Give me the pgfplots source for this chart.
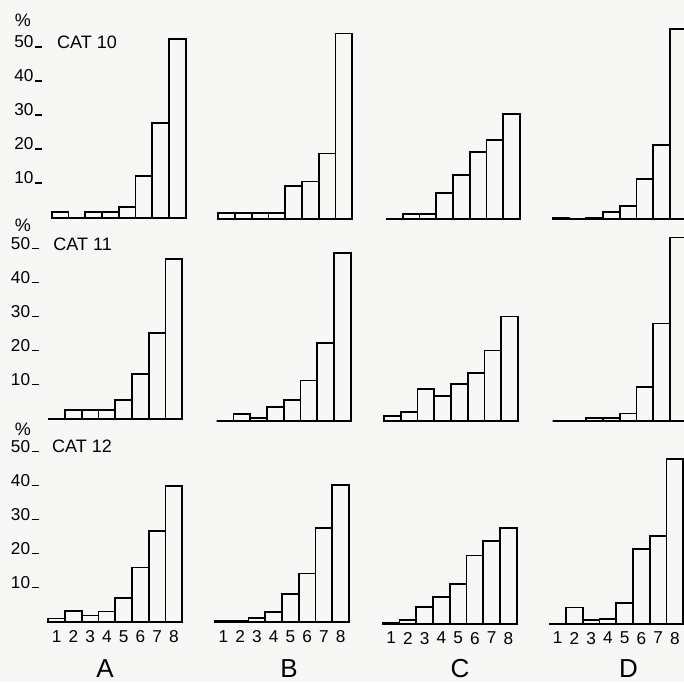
\documentclass[border=0pt]{standalone}
\usepackage{pgfplots}
\pgfplotsset{compat=1.18}
\usepackage{fontspec}
\setmainfont{Liberation Sans}
\definecolor{bgc}{RGB}{247,247,245}
\newcommand{\tk}[1]{#1\hspace{0.7pt}\rule{3.6pt}{0.75pt}}
\newcommand{\smallf}{\fontsize{8.6}{10}\selectfont}
\pgfplotsset{
  panel/.style={
    scale only axis, width=67pt, height=85pt,
    xmin=0.5, xmax=8.5, ymin=0, ymax=50,
    anchor=south west, clip=false,
    axis x line*=bottom, axis y line*=left,
    y axis line style={draw=none},
    x axis line style={line width=0.85pt, black},
    major tick length=0pt,
    ybar, bar width=1, bar shift=0pt,
    xtick=\empty, ytick=\empty,
  },
  ylabs/.style={
    ytick={10,20,30,40,50},
    yticklabels={\tk{10},\tk{20},\tk{30},\tk{40},\tk{50}},
    yticklabel style={anchor=base east, inner sep=0pt, xshift=-4.6pt, font=\smallf},
  },
  xlabs/.style={
    xtick={1,2,3,4,5,6,7,8},
    xticklabels={1,2,3,4,5,6,7,8},
    xticklabel style={anchor=north, inner sep=0pt, yshift=-4pt, font=\smallf},
  },
  bars/.style={draw=black, fill=none, line width=0.85pt},
}
\begin{document}
\begin{tikzpicture}
\fill[bgc] (0pt,0pt) rectangle (342pt,341pt);
% ---------------- Row 1: CAT 10
\begin{axis}[panel, ylabs, at={(25.85pt,232.15pt)}]
\addplot[bars] coordinates {(1,1.7) (2,0) (3,1.7) (4,1.7) (5,3.2) (6,12.3) (7,27.9) (8,52.6)};
\end{axis}
\begin{axis}[panel, at={(109.15pt,231.5pt)}]
\addplot[bars] coordinates {(1,1.7) (2,1.7) (3,1.7) (4,1.7) (5,9.8) (6,11.0) (7,19.3) (8,54.6)};
\end{axis}
\begin{axis}[panel, at={(193pt,231.35pt)}]
\addplot[bars] coordinates {(1,0) (2,1.6) (3,1.6) (4,7.8) (5,13.1) (6,19.8) (7,23.3) (8,31.0)};
\end{axis}
\begin{axis}[panel, at={(276.35pt,231.35pt)}]
\addplot[bars] coordinates {(1,0.4) (2,0) (3,0.4) (4,2.1) (5,3.9) (6,11.9) (7,21.8) (8,55.9)};
\end{axis}
% ---------------- Row 2: CAT 11
\begin{axis}[panel, ylabs, at={(24.15pt,131.35pt)}]
\addplot[bars] coordinates {(1,0) (2,2.7) (3,2.7) (4,2.7) (5,5.7) (6,13.3) (7,25.3) (8,47.1)};
\end{axis}
\begin{axis}[panel, at={(108.35pt,130.65pt)}]
\addplot[bars] coordinates {(1,0) (2,2.0) (3,0.7) (4,4.1) (5,6.1) (6,11.8) (7,22.8) (8,49.4)};
\end{axis}
\begin{axis}[panel, at={(192pt,130.5pt)}]
\addplot[bars] coordinates {(1,1.5) (2,2.6) (3,9.5) (4,7.4) (5,10.9) (6,14.1) (7,20.7) (8,30.7)};
\end{axis}
\begin{axis}[panel, at={(276.35pt,130.5pt)}]
\addplot[bars] coordinates {(1,0) (2,0) (3,0.9) (4,0.9) (5,2.2) (6,10.0) (7,28.7) (8,54.0)};
\end{axis}
% ---------------- Row 3: CAT 12
\begin{axis}[panel, ylabs, xlabs, at={(24.15pt,30pt)}]
\addplot[bars] coordinates {(1,1.0) (2,3.2) (3,1.9) (4,3.1) (5,7.1) (6,16.0) (7,26.7) (8,40.1)};
\end{axis}
\begin{axis}[panel, xlabs, at={(107.5pt,29.85pt)}]
\addplot[bars] coordinates {(1,0.3) (2,0.3) (3,1.2) (4,3.0) (5,8.4) (6,14.4) (7,27.8) (8,40.4)};
\end{axis}
\begin{axis}[panel, xlabs, at={(191.35pt,29.15pt)}]
\addplot[bars] coordinates {(1,0.3) (2,1.0) (3,5.0) (4,7.9) (5,11.6) (6,20.1) (7,24.4) (8,28.1)};
\end{axis}
\begin{axis}[panel, xlabs, at={(274.65pt,29.15pt)}]
\addplot[bars] coordinates {(1,0) (2,4.8) (3,1.0) (4,1.4) (5,6.1) (6,22.0) (7,25.9) (8,48.4)};
\end{axis}
% ---------------- texts
\begin{scope}[every node/.style={inner sep=0pt, font=\fontsize{9}{10}\selectfont}]
\node[anchor=base west] at (28.35pt,316.85pt) {CAT 10};
\node[anchor=base west] at (26.5pt,215.65pt) {CAT 11};
\node[anchor=base west] at (25.85pt,114.85pt) {CAT 12};
\node[anchor=base] at (11.5pt,327.5pt) {\%};
\node[anchor=base] at (11.5pt,225.3pt) {\%};
\node[anchor=base] at (11.5pt,123.5pt) {\%};
\end{scope}
\begin{scope}[every node/.style={inner sep=0pt, font=\fontsize{13}{15}\selectfont}]
\node[anchor=base] at (52.5pt,2.2pt) {A};
\node[anchor=base] at (144.5pt,2.2pt) {B};
\node[anchor=base] at (230pt,2.2pt) {C};
\node[anchor=base] at (314.25pt,2.2pt) {D};
\end{scope}
\pgfresetboundingbox
\useasboundingbox (0pt,0pt) rectangle (342pt,341pt);
\end{tikzpicture}
\end{document}
